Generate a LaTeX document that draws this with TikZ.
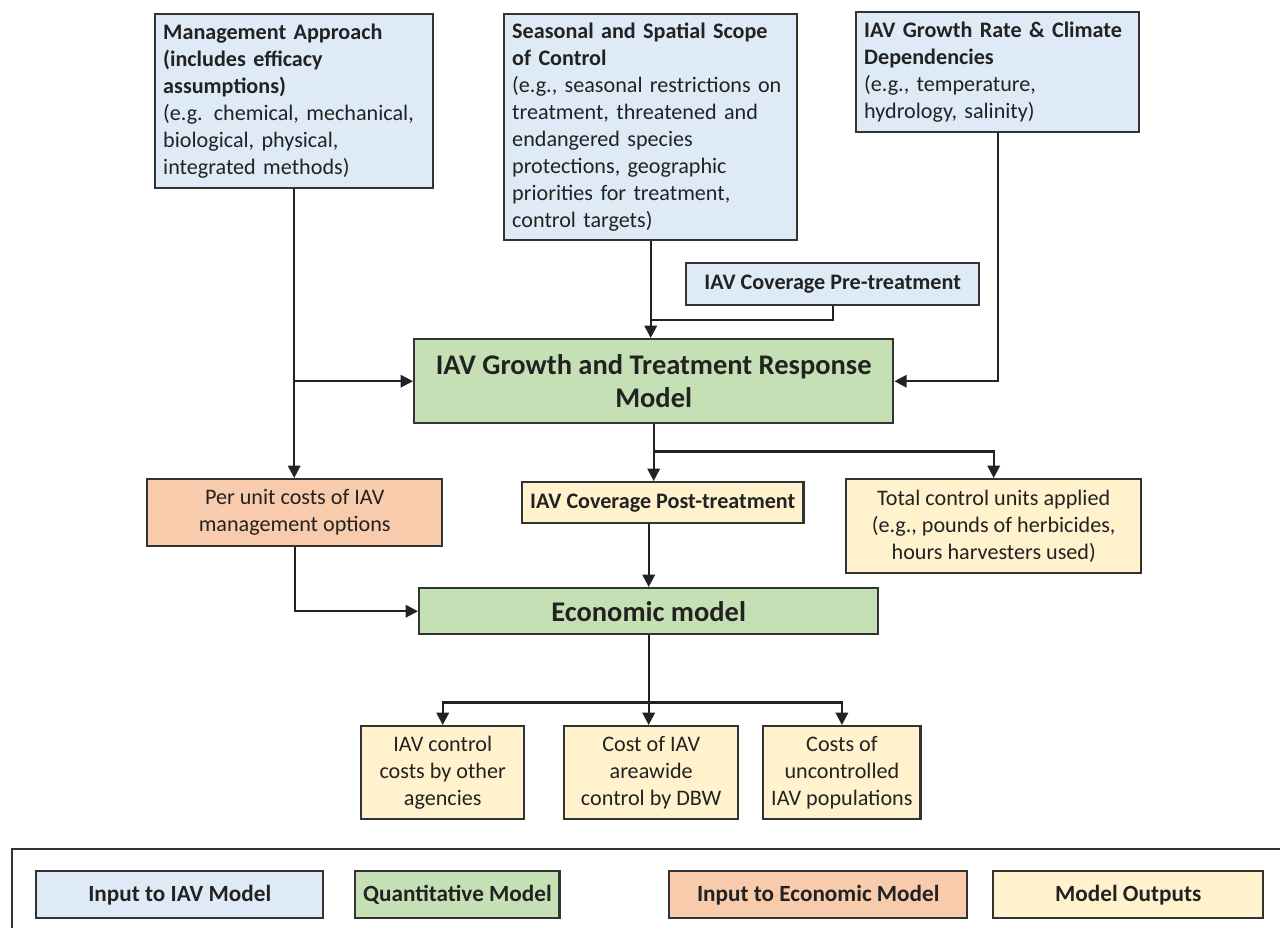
\documentclass[tikz,border=0pt]{standalone}
\usepackage{fontspec}
\setmainfont{Carlito}
\usetikzlibrary{positioning, arrows.meta}

\definecolor{inblue}{HTML}{DEEBF7}
\definecolor{qgreen}{HTML}{C5E0B4}
\definecolor{ecoorange}{HTML}{F8CBAD}
\definecolor{outyellow}{HTML}{FFF2CC}
\definecolor{edgegray}{HTML}{333333}
\definecolor{txtgray}{HTML}{222222}

\begin{document}
\begin{tikzpicture}[x=0.02cm, y=-0.02cm,
    box/.style={draw=edgegray, line width=1.4pt, anchor=north west, inner ysep=0pt,
        inner xsep=0.16cm, text=txtgray, font=\fontsize{12.6}{15.4}\selectfont},
    inbox/.style={box, fill=inblue},
    qbox/.style={box, fill=qgreen, align=center, font=\fontsize{16.2}{18.5}\selectfont\bfseries},
    ecobox/.style={box, fill=ecoorange, align=center},
    outbox/.style={box, fill=outyellow, align=center},
    keybox/.style={box, align=center, minimum height=0.94cm, font=\fontsize{13.2}{15}\selectfont\bfseries},
    flow/.style={-{Triangle[length=7pt, width=7pt]}, line width=1.3pt, txtgray},
    link/.style={line width=1.3pt, txtgray}]

    \useasboundingbox (0,0) rectangle (1280,927);
    \clip (0,0) rectangle (1280,927);

    % Inputs to the IAV model
    \node[inbox, text width=5.24cm, minimum height=3.48cm] (ma) at (154,13)
        {\textbf{Management Approach}\\\textbf{(includes efficacy}\\\textbf{assumptions)}\\(e.g. chemical, mechanical,\\biological, physical,\\integrated methods)};
    \node[inbox, text width=5.54cm, minimum height=4.52cm] (ss) at (503,13)
        {\textbf{Seasonal and Spatial Scope}\\\textbf{of Control}\\(e.g., seasonal restrictions on\\treatment, threatened and\\endangered species\\protections, geographic\\priorities for treatment,\\control targets)};
    \node[inbox, text width=5.34cm, minimum height=2.4cm] (gr) at (855,11)
        {\textbf{IAV Growth Rate \& Climate}\\\textbf{Dependencies}\\(e.g., temperature,\\hydrology, salinity)};
    \node[inbox, align=center, minimum width=5.86cm, minimum height=0.84cm] (pre) at (685,262)
        {\textbf{IAV Coverage Pre-treatment}};

    % Models
    \node[qbox, minimum width=9.58cm, minimum height=1.68cm] (gm) at (413,338)
        {IAV Growth and Treatment Response\\Model};
    \node[qbox, minimum width=9.18cm, minimum height=0.92cm] (em) at (418,587)
        {Economic model};

    % Economic input and outputs
    \node[ecobox, minimum width=5.9cm, minimum height=1.34cm] (pu) at (146,478)
        {Per unit costs of IAV\\management options};
    \node[outbox, minimum width=5.58cm, minimum height=0.82cm] (post) at (521,481)
        {\textbf{IAV Coverage Post-treatment}};
    \node[outbox, minimum width=5.9cm, minimum height=1.88cm] (tc) at (845,478)
        {Total control units applied\\(e.g., pounds of herbicides,\\hours harvesters used)};
    \node[outbox, minimum width=3.26cm, minimum height=1.86cm] (o1) at (360,725)
        {IAV control\\costs by other\\agencies};
    \node[outbox, minimum width=3.48cm, minimum height=1.86cm] (o2) at (563,725)
        {Cost of IAV\\areawide\\control by DBW};
    \node[outbox, minimum width=3.12cm, minimum height=1.86cm] (o3) at (762,725)
        {Costs of\\uncontrolled\\IAV populations};

    % Connectors
    \draw[flow] (ma.south) -- (ma.south |- pu.north);
    \draw[flow] (ma.south |- gm.west) -- (gm.west);
    \draw[flow] (ss.south) -- (ss.south |- gm.north);
    \draw[link] (pre.south) |- (ss.south |- 0,320);
    \draw[flow] (gr.south) |- (gm.east);
    \draw[flow] (gm.south) -- (gm.south |- post.north);
    \draw[flow] (gm.south) ++(0,27) -| (tc.north);
    \draw[flow] (post.south -| em.north) -- (em.north);
    \draw[flow] (pu.south) |- (em.west);
    \draw[link] (em.south) -- ++(0,67) coordinate (split);
    \draw[flow] (split) -| (o1.north);
    \draw[flow] (split) -- (split |- o2.north);
    \draw[flow] (split) -| (o3.north);

    % Legend
    \draw[line width=1.4pt, edgegray] (12,849) rectangle (1300,950);
    \node[keybox, fill=inblue, minimum width=5.74cm] (k1) at (35,870) {Input to IAV Model};
    \node[keybox, fill=qgreen, minimum width=3.86cm] (k2) at (354,870) {Quantitative Model};
    \node[keybox, fill=ecoorange, minimum width=5.96cm] (k3) at (668,870) {Input to Economic Model};
    \node[keybox, fill=outyellow, minimum width=5.4cm] (k4) at (992,870) {Model Outputs};
\end{tikzpicture}
\end{document}
